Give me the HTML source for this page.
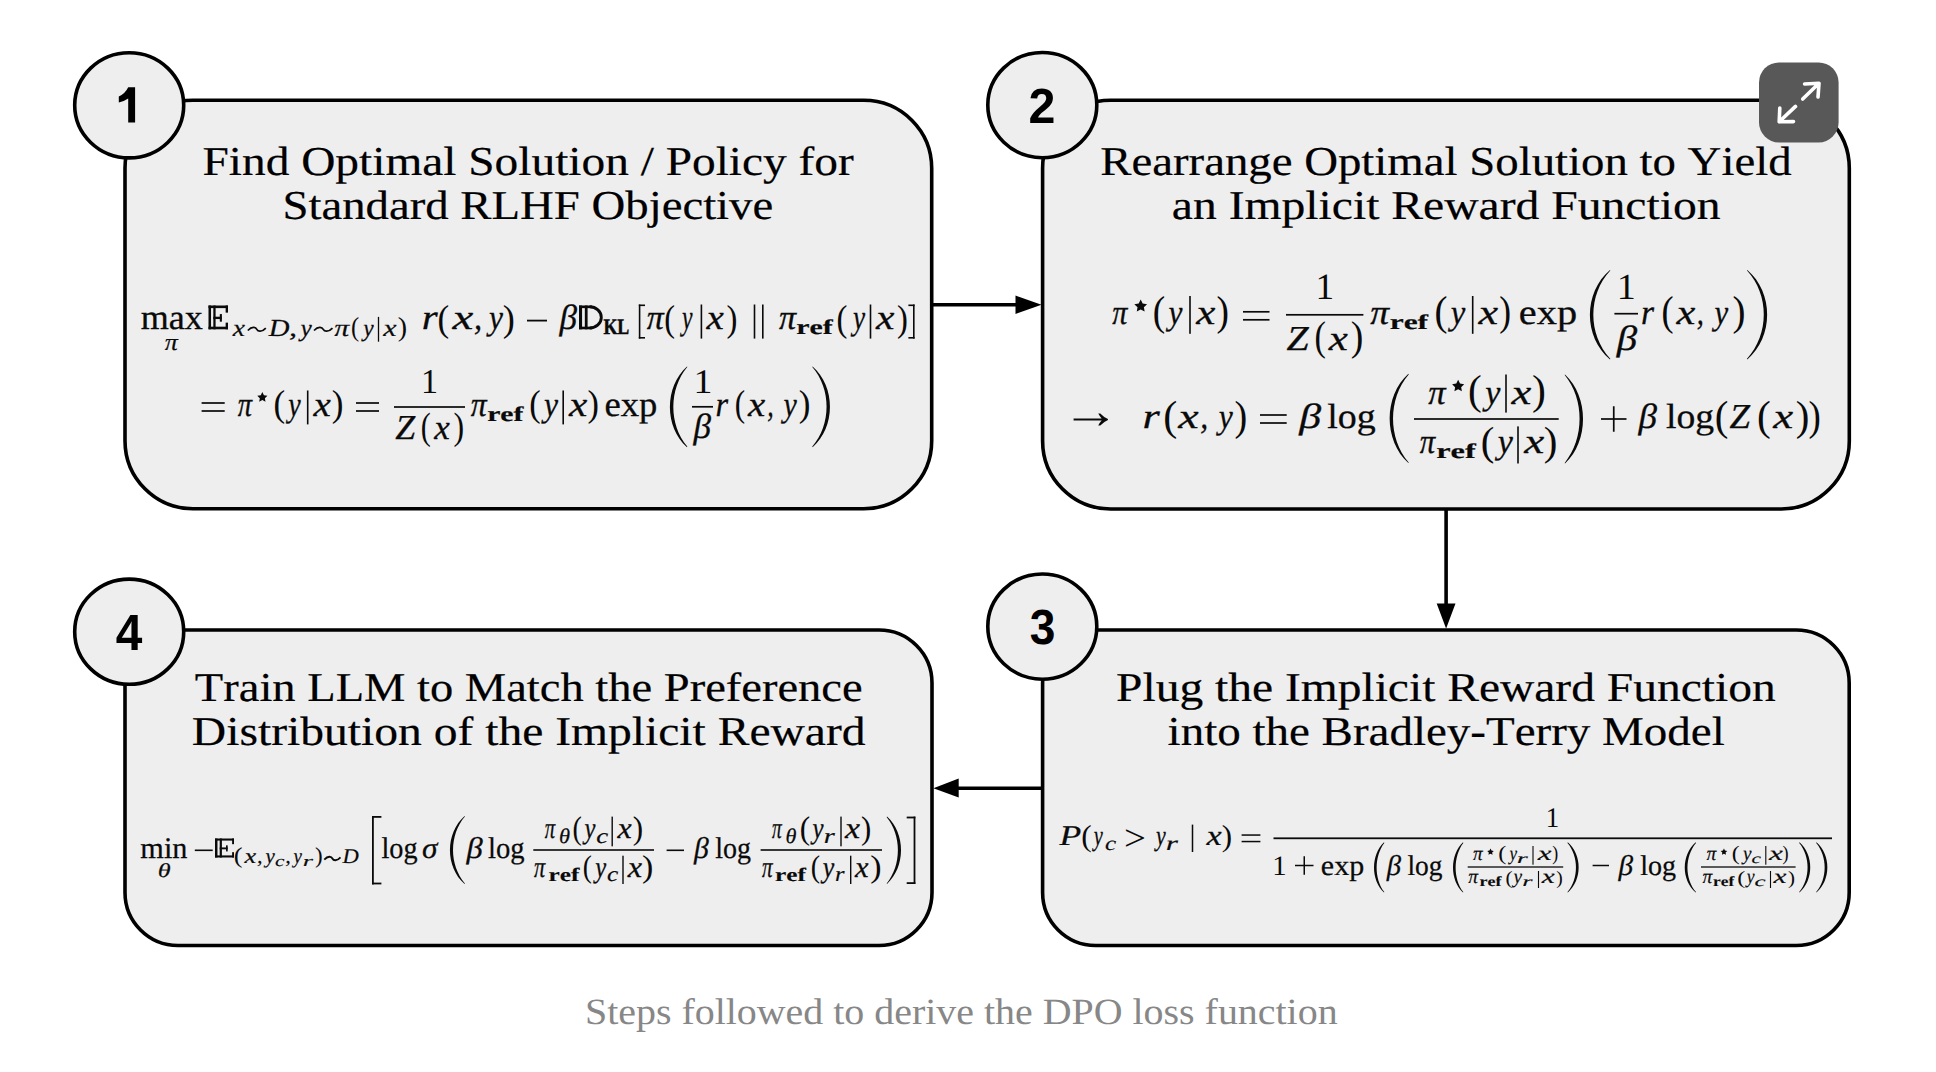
<!DOCTYPE html>
<html><head><meta charset="utf-8"><style>
html,body{margin:0;padding:0;background:#fff;}
svg{display:block;} text{font-kerning:none;font-variant-ligatures:none;text-rendering:geometricPrecision;}
</style></head><body>
<svg width="1936" height="1072" viewBox="0 0 1936 1072">
<rect x="125" y="100.3" width="806.7" height="408.4" rx="68" ry="68" fill="#eeeeee" stroke="#000" stroke-width="3.6"/>
<rect x="1042.6" y="100.2" width="806.7" height="408.8" rx="68" ry="68" fill="#eeeeee" stroke="#000" stroke-width="3.6"/>
<rect x="1042.6" y="630" width="806.6000000000001" height="315.5" rx="53" ry="53" fill="#eeeeee" stroke="#000" stroke-width="3.6"/>
<rect x="125" y="630" width="807" height="315.5" rx="53" ry="53" fill="#eeeeee" stroke="#000" stroke-width="3.6"/>
<line x1="931.7" y1="304.8" x2="1018" y2="304.8" stroke="#000" stroke-width="3.6"/>
<polygon points="1015.5,295.5 1041.5,304.8 1015.5,314" fill="#000"/>
<line x1="1446.1" y1="509" x2="1446.1" y2="606" stroke="#000" stroke-width="3.6"/>
<polygon points="1436.7,603.5 1455.5,603.5 1446.1,628.5" fill="#000"/>
<line x1="1042.6" y1="788.2" x2="956" y2="788.2" stroke="#000" stroke-width="3.6"/>
<polygon points="958.7,778.6 958.7,797.6 933.4,788.2" fill="#000"/>
<ellipse cx="129.2" cy="105.3" rx="54.5" ry="52.6" fill="#eeeeee" stroke="#000" stroke-width="3.6"/>
<ellipse cx="1042.3" cy="105.1" rx="54.5" ry="52.6" fill="#eeeeee" stroke="#000" stroke-width="3.6"/>
<ellipse cx="1042.3" cy="626.6" rx="54.5" ry="52.6" fill="#eeeeee" stroke="#000" stroke-width="3.6"/>
<ellipse cx="129.2" cy="631.7" rx="54.5" ry="52.6" fill="#eeeeee" stroke="#000" stroke-width="3.6"/>
<path d="M128.2,87.3 L135.1,87.3 L135.1,122.5 L128.2,122.5 L128.2,98.6 Q123.5,101.8 118.8,102.6 L118.8,96.4 Q125,94 128.2,87.3 Z" fill="#000"/>
<text transform="translate(1028.62,122.50) scale(0.9797,1.0)" font-family="Liberation Sans" font-style="normal" font-weight="bold" font-size="49.40" fill="#000">2</text>
<text transform="translate(1029.64,643.66) scale(0.9326,1.0)" font-family="Liberation Sans" font-style="normal" font-weight="bold" font-size="49.40" fill="#000">3</text>
<text transform="translate(115.68,649.50) scale(0.9390,1.0)" font-family="Liberation Sans" font-style="normal" font-weight="bold" font-size="50.90" fill="#000">4</text>
<rect x="1759" y="62.4" width="79.6" height="80" rx="20" fill="#585858"/>
<g stroke="#fff" stroke-width="3.6" stroke-linecap="round" stroke-linejoin="round" fill="none"><path d="M1804.6,84 L1819,83.3 L1818,97 M1819,83.3 L1802.7,99"/><path d="M1779.8,108 L1779.2,121.8 L1793.5,121.6 M1779.2,121.8 L1795.5,106.4"/></g>
<text transform="translate(202.44,174.70) scale(1.1554,1.0)" font-family="Liberation Serif" font-style="normal" font-weight="normal" font-size="41.00" fill="#000" stroke="#000" stroke-width="0.2">Find Optimal Solution / Policy for</text>
<text transform="translate(282.47,219.00) scale(1.1402,1.0)" font-family="Liberation Serif" font-style="normal" font-weight="normal" font-size="41.00" fill="#000" stroke="#000" stroke-width="0.2">Standard RLHF Objective</text>
<text transform="translate(1100.25,174.70) scale(1.1412,1.0)" font-family="Liberation Serif" font-style="normal" font-weight="normal" font-size="41.00" fill="#000" stroke="#000" stroke-width="0.2">Rearrange Optimal Solution to Yield</text>
<text transform="translate(1171.83,219.00) scale(1.1612,1.0)" font-family="Liberation Serif" font-style="normal" font-weight="normal" font-size="41.00" fill="#000" stroke="#000" stroke-width="0.2">an Implicit Reward Function</text>
<text transform="translate(1116.03,700.50) scale(1.1586,1.0)" font-family="Liberation Serif" font-style="normal" font-weight="normal" font-size="41.00" fill="#000" stroke="#000" stroke-width="0.2">Plug the Implicit Reward Function</text>
<text transform="translate(1167.61,744.80) scale(1.1460,1.0)" font-family="Liberation Serif" font-style="normal" font-weight="normal" font-size="41.00" fill="#000" stroke="#000" stroke-width="0.2">into the Bradley-Terry Model</text>
<text transform="translate(194.86,700.50) scale(1.1346,1.0)" font-family="Liberation Serif" font-style="normal" font-weight="normal" font-size="41.00" fill="#000" stroke="#000" stroke-width="0.2">Train LLM to Match the Preference</text>
<text transform="translate(191.83,744.80) scale(1.1602,1.0)" font-family="Liberation Serif" font-style="normal" font-weight="normal" font-size="41.00" fill="#000" stroke="#000" stroke-width="0.2">Distribution of the Implicit Reward</text>
<text transform="translate(584.93,1023.80) scale(1.0787,1.0)" font-family="Liberation Serif" font-style="normal" font-weight="normal" font-size="37.00" fill="#878787">Steps followed to derive the DPO loss function</text>
<text transform="translate(140.64,329.40) scale(1.0305,1.0)" font-family="Liberation Serif" font-style="normal" font-weight="normal" font-size="35.00" fill="#0a0a0a" stroke="#0a0a0a" stroke-width="0.3">max</text>
<text transform="translate(164.86,350.00) scale(1.0847,1.0)" font-family="Liberation Serif" font-style="italic" font-weight="normal" font-size="24.00" fill="#0a0a0a" stroke="#0a0a0a" stroke-width="0.2057142857142857">π</text>
<rect x="208.50" y="305.50" width="19.50" height="2.62" fill="#0a0a0a"/>
<rect x="208.50" y="326.68" width="19.50" height="2.62" fill="#0a0a0a"/>
<rect x="208.50" y="305.50" width="2.54" height="23.80" fill="#0a0a0a"/>
<rect x="213.32" y="305.50" width="2.28" height="23.80" fill="#0a0a0a"/>
<rect x="213.32" y="316.69" width="8.19" height="2.36" fill="#0a0a0a"/>
<rect x="225.64" y="305.50" width="2.36" height="7.14" fill="#0a0a0a"/>
<rect x="225.64" y="322.64" width="2.36" height="6.66" fill="#0a0a0a"/>
<rect x="219.81" y="314.07" width="2.09" height="7.62" fill="#0a0a0a"/>
<text transform="translate(232.64,336.00) scale(1.1279,1.0)" font-family="Liberation Serif" font-style="italic" font-weight="normal" font-size="24.50" fill="#0a0a0a" stroke="#0a0a0a" stroke-width="0.21">x</text>
<path d="M247.80,330.50 C252.30,325.70 255.90,327.50 256.80,329.30 S261.30,332.90 265.80,328.10" fill="none" stroke="#0a0a0a" stroke-width="1.7"/>
<text transform="translate(268.72,336.00) scale(1.1706,1.0)" font-family="Liberation Serif" font-style="italic" font-weight="normal" font-size="24.50" fill="#0a0a0a" stroke="#0a0a0a" stroke-width="0.21">D</text>
<text transform="translate(288.92,336.00) scale(1.3269,1.0)" font-family="Liberation Serif" font-style="italic" font-weight="normal" font-size="24.50" fill="#0a0a0a" stroke="#0a0a0a" stroke-width="0.21">,</text>
<text transform="translate(300.52,336.00) scale(1.0362,1.0)" font-family="Liberation Serif" font-style="italic" font-weight="normal" font-size="24.50" fill="#0a0a0a" stroke="#0a0a0a" stroke-width="0.21">y</text>
<path d="M314.00,330.50 C318.62,325.70 322.32,327.50 323.25,329.30 S327.88,332.90 332.50,328.10" fill="none" stroke="#0a0a0a" stroke-width="1.7"/>
<text transform="translate(334.34,336.00) scale(1.2200,1.0)" font-family="Liberation Serif" font-style="italic" font-weight="normal" font-size="24.50" fill="#0a0a0a" stroke="#0a0a0a" stroke-width="0.21">π</text>
<text transform="translate(350.92,335.88) scale(0.2453,0.2735)" font-family="Liberation Serif" font-style="normal" font-weight="normal" font-size="100.0" fill="#0a0a0a">(</text>
<text transform="translate(363.36,336.00) scale(0.9589,1.0)" font-family="Liberation Serif" font-style="italic" font-weight="normal" font-size="24.50" fill="#0a0a0a" stroke="#0a0a0a" stroke-width="0.21">y</text>
<rect x="377.85" y="316.90" width="1.30" height="24.80" fill="#0a0a0a"/>
<text transform="translate(383.37,336.00) scale(1.2280,1.0)" font-family="Liberation Serif" font-style="italic" font-weight="normal" font-size="24.50" fill="#0a0a0a" stroke="#0a0a0a" stroke-width="0.21">x</text>
<text transform="translate(397.70,335.88) scale(0.2803,0.2735)" font-family="Liberation Serif" font-style="normal" font-weight="normal" font-size="100.0" fill="#0a0a0a">)</text>
<text transform="translate(421.74,329.40) scale(1.1703,1.0)" font-family="Liberation Serif" font-style="italic" font-weight="normal" font-size="35.00" fill="#0a0a0a" stroke="#0a0a0a" stroke-width="0.3">r</text>
<text transform="translate(437.46,330.59) scale(0.3504,0.3761)" font-family="Liberation Serif" font-style="normal" font-weight="normal" font-size="100.0" fill="#0a0a0a">(</text>
<text transform="translate(452.57,329.40) scale(1.3371,1.0)" font-family="Liberation Serif" font-style="italic" font-weight="normal" font-size="35.00" fill="#0a0a0a" stroke="#0a0a0a" stroke-width="0.3">x</text>
<text transform="translate(473.92,329.40) scale(0.9288,1.0)" font-family="Liberation Serif" font-style="italic" font-weight="normal" font-size="35.00" fill="#0a0a0a" stroke="#0a0a0a" stroke-width="0.3">,</text>
<text transform="translate(489.03,329.40) scale(0.8986,1.0)" font-family="Liberation Serif" font-style="italic" font-weight="normal" font-size="35.00" fill="#0a0a0a" stroke="#0a0a0a" stroke-width="0.3">y</text>
<text transform="translate(502.83,330.59) scale(0.3621,0.3761)" font-family="Liberation Serif" font-style="normal" font-weight="normal" font-size="100.0" fill="#0a0a0a">)</text>
<rect x="527.00" y="319.70" width="20.00" height="1.80" fill="#0a0a0a"/>
<text transform="translate(559.57,329.40) scale(1.0031,1.0)" font-family="Liberation Serif" font-style="italic" font-weight="normal" font-size="35.00" fill="#0a0a0a" stroke="#0a0a0a" stroke-width="0.3">β</text>
<rect x="579.00" y="305.50" width="3.07" height="23.80" fill="#0a0a0a"/>
<rect x="584.83" y="305.50" width="2.76" height="23.80" fill="#0a0a0a"/>
<rect x="579.00" y="305.50" width="12.98" height="2.62" fill="#0a0a0a"/>
<rect x="579.00" y="326.68" width="12.98" height="2.62" fill="#0a0a0a"/>
<path d="M589.62,306.81 A11.67,10.59 0 0 1 589.62,327.99" fill="none" stroke="#0a0a0a" stroke-width="2.88"/>
<text transform="translate(603.39,334.40) scale(0.8135,1.0)" font-family="Liberation Serif" font-style="normal" font-weight="bold" font-size="22.00" fill="#0a0a0a" stroke="#0a0a0a" stroke-width="0.5">KL</text>
<rect x="638.80" y="304.50" width="1.60" height="34.10" fill="#0a0a0a"/>
<rect x="638.80" y="304.50" width="6.20" height="1.60" fill="#0a0a0a"/>
<rect x="638.80" y="337.00" width="6.20" height="1.60" fill="#0a0a0a"/>
<text transform="translate(646.82,329.40) scale(0.9697,1.0)" font-family="Liberation Serif" font-style="italic" font-weight="normal" font-size="35.00" fill="#0a0a0a" stroke="#0a0a0a" stroke-width="0.3">π</text>
<text transform="translate(664.28,330.59) scale(0.3232,0.3761)" font-family="Liberation Serif" font-style="normal" font-weight="normal" font-size="100.0" fill="#0a0a0a">(</text>
<text transform="translate(681.98,329.40) scale(0.6766,1.0)" font-family="Liberation Serif" font-style="italic" font-weight="normal" font-size="35.00" fill="#0a0a0a" stroke="#0a0a0a" stroke-width="0.3">y</text>
<rect x="700.60" y="304.50" width="1.60" height="34.10" fill="#0a0a0a"/>
<text transform="translate(706.48,329.40) scale(1.1143,1.0)" font-family="Liberation Serif" font-style="italic" font-weight="normal" font-size="35.00" fill="#0a0a0a" stroke="#0a0a0a" stroke-width="0.3">x</text>
<text transform="translate(726.55,330.59) scale(0.3271,0.3761)" font-family="Liberation Serif" font-style="normal" font-weight="normal" font-size="100.0" fill="#0a0a0a">)</text>
<rect x="753.70" y="304.50" width="1.60" height="34.10" fill="#0a0a0a"/>
<rect x="762.00" y="304.50" width="1.60" height="34.10" fill="#0a0a0a"/>
<text transform="translate(779.12,329.40) scale(0.9752,1.0)" font-family="Liberation Serif" font-style="italic" font-weight="normal" font-size="35.00" fill="#0a0a0a" stroke="#0a0a0a" stroke-width="0.3">π</text>
<text transform="translate(796.20,334.40) scale(1.4243,1.0)" font-family="Liberation Serif" font-style="normal" font-weight="bold" font-size="21.00" fill="#0a0a0a" stroke="#0a0a0a" stroke-width="0.18">ref</text>
<text transform="translate(836.56,330.59) scale(0.3271,0.3761)" font-family="Liberation Serif" font-style="normal" font-weight="normal" font-size="100.0" fill="#0a0a0a">(</text>
<text transform="translate(852.88,329.40) scale(0.7795,1.0)" font-family="Liberation Serif" font-style="italic" font-weight="normal" font-size="35.00" fill="#0a0a0a" stroke="#0a0a0a" stroke-width="0.3">y</text>
<rect x="869.70" y="304.50" width="1.60" height="34.10" fill="#0a0a0a"/>
<text transform="translate(875.91,329.40) scale(1.1843,1.0)" font-family="Liberation Serif" font-style="italic" font-weight="normal" font-size="35.00" fill="#0a0a0a" stroke="#0a0a0a" stroke-width="0.3">x</text>
<text transform="translate(896.95,330.59) scale(0.3271,0.3761)" font-family="Liberation Serif" font-style="normal" font-weight="normal" font-size="100.0" fill="#0a0a0a">)</text>
<rect x="913.00" y="304.50" width="1.60" height="34.10" fill="#0a0a0a"/>
<rect x="908.40" y="304.50" width="6.20" height="1.60" fill="#0a0a0a"/>
<rect x="908.40" y="337.00" width="6.20" height="1.60" fill="#0a0a0a"/>
<rect x="201.60" y="402.15" width="23.10" height="1.70" fill="#0a0a0a"/>
<rect x="201.60" y="410.15" width="23.10" height="1.70" fill="#0a0a0a"/>
<text transform="translate(237.85,416.00) scale(0.8155,1.0)" font-family="Liberation Serif" font-style="italic" font-weight="normal" font-size="35.00" fill="#0a0a0a" stroke="#0a0a0a" stroke-width="0.3">π</text>
<polygon points="262.35,392.00 263.92,395.19 267.44,395.70 264.89,398.18 265.49,401.68 262.35,400.03 259.21,401.68 259.81,398.18 257.26,395.70 260.78,395.19" fill="#0a0a0a"/>
<text transform="translate(273.46,416.44) scale(0.3504,0.3739)" font-family="Liberation Serif" font-style="normal" font-weight="normal" font-size="100.0" fill="#0a0a0a">(</text>
<text transform="translate(288.24,416.00) scale(0.8011,1.0)" font-family="Liberation Serif" font-style="italic" font-weight="normal" font-size="35.00" fill="#0a0a0a" stroke="#0a0a0a" stroke-width="0.3">y</text>
<rect x="306.90" y="390.50" width="1.60" height="33.90" fill="#0a0a0a"/>
<text transform="translate(313.48,416.00) scale(1.1143,1.0)" font-family="Liberation Serif" font-style="italic" font-weight="normal" font-size="35.00" fill="#0a0a0a" stroke="#0a0a0a" stroke-width="0.3">x</text>
<text transform="translate(331.87,416.44) scale(0.3504,0.3739)" font-family="Liberation Serif" font-style="normal" font-weight="normal" font-size="100.0" fill="#0a0a0a">)</text>
<rect x="356.00" y="402.15" width="23.00" height="1.70" fill="#0a0a0a"/>
<rect x="356.00" y="410.15" width="23.00" height="1.70" fill="#0a0a0a"/>
<rect x="394.00" y="406.15" width="71.00" height="1.70" fill="#0a0a0a"/>
<text transform="translate(421.00,393.00) scale(0.3409,0.3499)" font-family="Liberation Serif" font-style="normal" font-weight="normal" font-size="100.0" fill="#0a0a0a">1</text>
<text transform="translate(395.36,438.50) scale(1.0244,1.0)" font-family="Liberation Serif" font-style="italic" font-weight="normal" font-size="35.00" fill="#0a0a0a" stroke="#0a0a0a" stroke-width="0.3">Z</text>
<text transform="translate(420.68,439.45) scale(0.2998,0.3827)" font-family="Liberation Serif" font-style="normal" font-weight="normal" font-size="100.0" fill="#0a0a0a">(</text>
<text transform="translate(434.23,438.50) scale(0.9996,1.0)" font-family="Liberation Serif" font-style="italic" font-weight="normal" font-size="35.00" fill="#0a0a0a" stroke="#0a0a0a" stroke-width="0.3">x</text>
<text transform="translate(453.47,439.45) scale(0.3193,0.3827)" font-family="Liberation Serif" font-style="normal" font-weight="normal" font-size="100.0" fill="#0a0a0a">)</text>
<text transform="translate(470.83,416.00) scale(0.9091,1.0)" font-family="Liberation Serif" font-style="italic" font-weight="normal" font-size="35.00" fill="#0a0a0a" stroke="#0a0a0a" stroke-width="0.3">π</text>
<text transform="translate(487.20,421.00) scale(1.4124,1.0)" font-family="Liberation Serif" font-style="normal" font-weight="bold" font-size="21.00" fill="#0a0a0a" stroke="#0a0a0a" stroke-width="0.18">ref</text>
<text transform="translate(529.19,416.44) scale(0.3426,0.3739)" font-family="Liberation Serif" font-style="normal" font-weight="normal" font-size="100.0" fill="#0a0a0a">(</text>
<text transform="translate(543.94,416.00) scale(0.9040,1.0)" font-family="Liberation Serif" font-style="italic" font-weight="normal" font-size="35.00" fill="#0a0a0a" stroke="#0a0a0a" stroke-width="0.3">y</text>
<rect x="562.40" y="390.50" width="1.60" height="33.90" fill="#0a0a0a"/>
<text transform="translate(569.00,416.00) scale(1.1779,1.0)" font-family="Liberation Serif" font-style="italic" font-weight="normal" font-size="35.00" fill="#0a0a0a" stroke="#0a0a0a" stroke-width="0.3">x</text>
<text transform="translate(587.60,416.44) scale(0.3426,0.3739)" font-family="Liberation Serif" font-style="normal" font-weight="normal" font-size="100.0" fill="#0a0a0a">)</text>
<text transform="translate(604.57,416.00) scale(1.0460,1.0)" font-family="Liberation Serif" font-style="normal" font-weight="normal" font-size="35.00" fill="#0a0a0a" stroke="#0a0a0a" stroke-width="0.3">exp</text>
<path d="M687.00,366.40 C664.33,386.60 664.33,427.00 687.00,447.20 L687.30,446.60 C668.73,424.58 668.73,389.02 687.30,367.00 Z" fill="#0a0a0a"/>
<text transform="translate(693.38,392.80) scale(0.3778,0.3454)" font-family="Liberation Serif" font-style="normal" font-weight="normal" font-size="100.0" fill="#0a0a0a">1</text>
<rect x="692.00" y="405.95" width="21.00" height="1.70" fill="#0a0a0a"/>
<text transform="translate(693.57,438.00) scale(1.0031,1.0)" font-family="Liberation Serif" font-style="italic" font-weight="normal" font-size="35.00" fill="#0a0a0a" stroke="#0a0a0a" stroke-width="0.3">β</text>
<text transform="translate(715.59,416.00) scale(0.9265,1.0)" font-family="Liberation Serif" font-style="italic" font-weight="normal" font-size="35.00" fill="#0a0a0a" stroke="#0a0a0a" stroke-width="0.3">r</text>
<text transform="translate(734.63,416.44) scale(0.3115,0.3739)" font-family="Liberation Serif" font-style="normal" font-weight="normal" font-size="100.0" fill="#0a0a0a">(</text>
<text transform="translate(748.07,416.00) scale(1.1079,1.0)" font-family="Liberation Serif" font-style="italic" font-weight="normal" font-size="35.00" fill="#0a0a0a" stroke="#0a0a0a" stroke-width="0.3">x</text>
<text transform="translate(767.14,416.00) scale(0.7430,1.0)" font-family="Liberation Serif" font-style="italic" font-weight="normal" font-size="35.00" fill="#0a0a0a" stroke="#0a0a0a" stroke-width="0.3">,</text>
<text transform="translate(783.50,416.00) scale(0.8553,1.0)" font-family="Liberation Serif" font-style="italic" font-weight="normal" font-size="35.00" fill="#0a0a0a" stroke="#0a0a0a" stroke-width="0.3">y</text>
<text transform="translate(798.87,416.44) scale(0.3504,0.3739)" font-family="Liberation Serif" font-style="normal" font-weight="normal" font-size="100.0" fill="#0a0a0a">)</text>
<path d="M812.60,366.40 C835.80,386.60 835.80,427.00 812.60,447.20 L812.30,446.60 C831.40,424.58 831.40,389.02 812.30,367.00 Z" fill="#0a0a0a"/>
<text transform="translate(1112.14,324.00) scale(0.8650,1.0)" font-family="Liberation Serif" font-style="italic" font-weight="normal" font-size="35.00" fill="#0a0a0a" stroke="#0a0a0a" stroke-width="0.3">π</text>
<polygon points="1140.70,299.50 1142.67,303.49 1147.07,304.13 1143.89,307.24 1144.64,311.62 1140.70,309.55 1136.76,311.62 1137.51,307.24 1134.33,304.13 1138.73,303.49" fill="#0a0a0a"/>
<text transform="translate(1152.76,324.93) scale(0.3738,0.4169)" font-family="Liberation Serif" font-style="normal" font-weight="normal" font-size="100.0" fill="#0a0a0a">(</text>
<text transform="translate(1168.53,324.00) scale(0.8986,1.0)" font-family="Liberation Serif" font-style="italic" font-weight="normal" font-size="35.00" fill="#0a0a0a" stroke="#0a0a0a" stroke-width="0.3">y</text>
<rect x="1189.20" y="296.00" width="1.60" height="37.80" fill="#0a0a0a"/>
<text transform="translate(1196.23,324.00) scale(1.2289,1.0)" font-family="Liberation Serif" font-style="italic" font-weight="normal" font-size="35.00" fill="#0a0a0a" stroke="#0a0a0a" stroke-width="0.3">x</text>
<text transform="translate(1216.50,324.93) scale(0.3738,0.4169)" font-family="Liberation Serif" font-style="normal" font-weight="normal" font-size="100.0" fill="#0a0a0a">)</text>
<rect x="1243.00" y="310.95" width="26.50" height="1.70" fill="#0a0a0a"/>
<rect x="1243.00" y="318.95" width="26.50" height="1.70" fill="#0a0a0a"/>
<rect x="1286.00" y="313.95" width="77.40" height="1.70" fill="#0a0a0a"/>
<text transform="translate(1315.43,298.60) scale(0.3721,0.3726)" font-family="Liberation Serif" font-style="normal" font-weight="normal" font-size="100.0" fill="#0a0a0a">1</text>
<text transform="translate(1286.51,350.00) scale(1.1382,1.0)" font-family="Liberation Serif" font-style="italic" font-weight="normal" font-size="35.00" fill="#0a0a0a" stroke="#0a0a0a" stroke-width="0.3">Z</text>
<text transform="translate(1314.49,350.35) scale(0.3426,0.4158)" font-family="Liberation Serif" font-style="normal" font-weight="normal" font-size="100.0" fill="#0a0a0a">(</text>
<text transform="translate(1328.83,350.00) scale(1.2289,1.0)" font-family="Liberation Serif" font-style="italic" font-weight="normal" font-size="35.00" fill="#0a0a0a" stroke="#0a0a0a" stroke-width="0.3">x</text>
<text transform="translate(1350.78,350.35) scale(0.3777,0.4158)" font-family="Liberation Serif" font-style="normal" font-weight="normal" font-size="100.0" fill="#0a0a0a">)</text>
<text transform="translate(1370.30,324.00) scale(1.0744,1.0)" font-family="Liberation Serif" font-style="italic" font-weight="normal" font-size="35.00" fill="#0a0a0a" stroke="#0a0a0a" stroke-width="0.3">π</text>
<text transform="translate(1389.65,329.00) scale(1.4995,1.0)" font-family="Liberation Serif" font-style="normal" font-weight="bold" font-size="21.00" fill="#0a0a0a" stroke="#0a0a0a" stroke-width="0.18">ref</text>
<text transform="translate(1434.59,324.93) scale(0.3894,0.4169)" font-family="Liberation Serif" font-style="normal" font-weight="normal" font-size="100.0" fill="#0a0a0a">(</text>
<text transform="translate(1450.74,324.00) scale(0.9364,1.0)" font-family="Liberation Serif" font-style="italic" font-weight="normal" font-size="35.00" fill="#0a0a0a" stroke="#0a0a0a" stroke-width="0.3">y</text>
<rect x="1471.90" y="296.00" width="1.60" height="37.80" fill="#0a0a0a"/>
<text transform="translate(1478.54,324.00) scale(1.2607,1.0)" font-family="Liberation Serif" font-style="italic" font-weight="normal" font-size="35.00" fill="#0a0a0a" stroke="#0a0a0a" stroke-width="0.3">x</text>
<text transform="translate(1499.36,324.93) scale(0.3543,0.4169)" font-family="Liberation Serif" font-style="normal" font-weight="normal" font-size="100.0" fill="#0a0a0a">)</text>
<text transform="translate(1518.82,324.00) scale(1.1527,1.0)" font-family="Liberation Serif" font-style="normal" font-weight="normal" font-size="35.00" fill="#0a0a0a" stroke="#0a0a0a" stroke-width="0.3">exp</text>
<path d="M1610.00,270.00 C1583.33,292.35 1583.33,337.05 1610.00,359.40 L1610.30,358.80 C1587.73,334.37 1587.73,295.03 1610.30,270.60 Z" fill="#0a0a0a"/>
<text transform="translate(1616.65,298.90) scale(0.3806,0.3696)" font-family="Liberation Serif" font-style="normal" font-weight="normal" font-size="100.0" fill="#0a0a0a">1</text>
<rect x="1614.40" y="312.85" width="23.60" height="1.70" fill="#0a0a0a"/>
<text transform="translate(1616.66,349.50) scale(1.1703,1.0)" font-family="Liberation Serif" font-style="italic" font-weight="normal" font-size="35.00" fill="#0a0a0a" stroke="#0a0a0a" stroke-width="0.3">β</text>
<text transform="translate(1641.04,324.00) scale(0.9590,1.0)" font-family="Liberation Serif" font-style="italic" font-weight="normal" font-size="35.00" fill="#0a0a0a" stroke="#0a0a0a" stroke-width="0.3">r</text>
<text transform="translate(1661.41,324.93) scale(0.3621,0.4169)" font-family="Liberation Serif" font-style="normal" font-weight="normal" font-size="100.0" fill="#0a0a0a">(</text>
<text transform="translate(1676.52,324.00) scale(1.2098,1.0)" font-family="Liberation Serif" font-style="italic" font-weight="normal" font-size="35.00" fill="#0a0a0a" stroke="#0a0a0a" stroke-width="0.3">x</text>
<text transform="translate(1696.65,324.00) scale(0.8173,1.0)" font-family="Liberation Serif" font-style="italic" font-weight="normal" font-size="35.00" fill="#0a0a0a" stroke="#0a0a0a" stroke-width="0.3">,</text>
<text transform="translate(1714.58,324.00) scale(0.8823,1.0)" font-family="Liberation Serif" font-style="italic" font-weight="normal" font-size="35.00" fill="#0a0a0a" stroke="#0a0a0a" stroke-width="0.3">y</text>
<text transform="translate(1732.45,324.93) scale(0.3894,0.4169)" font-family="Liberation Serif" font-style="normal" font-weight="normal" font-size="100.0" fill="#0a0a0a">)</text>
<path d="M1747.30,270.00 C1773.83,292.35 1773.83,337.05 1747.30,359.40 L1747.00,358.80 C1769.43,334.37 1769.43,295.03 1747.00,270.60 Z" fill="#0a0a0a"/>
<text transform="translate(1061.87,427.50) scale(0.5796,0.5120)" font-family="Liberation Serif" font-style="normal" font-weight="normal" font-size="100.0" fill="#0a0a0a">→</text>
<text transform="translate(1142.60,427.70) scale(1.2678,1.0)" font-family="Liberation Serif" font-style="italic" font-weight="normal" font-size="35.00" fill="#0a0a0a" stroke="#0a0a0a" stroke-width="0.3">r</text>
<text transform="translate(1163.15,429.61) scale(0.4205,0.4224)" font-family="Liberation Serif" font-style="normal" font-weight="normal" font-size="100.0" fill="#0a0a0a">(</text>
<text transform="translate(1178.36,427.70) scale(1.3116,1.0)" font-family="Liberation Serif" font-style="italic" font-weight="normal" font-size="35.00" fill="#0a0a0a" stroke="#0a0a0a" stroke-width="0.3">x</text>
<text transform="translate(1200.24,427.70) scale(0.9102,1.0)" font-family="Liberation Serif" font-style="italic" font-weight="normal" font-size="35.00" fill="#0a0a0a" stroke="#0a0a0a" stroke-width="0.3">,</text>
<text transform="translate(1218.64,427.70) scale(0.9040,1.0)" font-family="Liberation Serif" font-style="italic" font-weight="normal" font-size="35.00" fill="#0a0a0a" stroke="#0a0a0a" stroke-width="0.3">y</text>
<text transform="translate(1234.47,429.61) scale(0.3816,0.4224)" font-family="Liberation Serif" font-style="normal" font-weight="normal" font-size="100.0" fill="#0a0a0a">)</text>
<rect x="1260.00" y="414.15" width="26.70" height="1.70" fill="#0a0a0a"/>
<rect x="1260.00" y="422.15" width="26.70" height="1.70" fill="#0a0a0a"/>
<text transform="translate(1299.21,427.70) scale(1.2539,1.0)" font-family="Liberation Serif" font-style="italic" font-weight="normal" font-size="35.00" fill="#0a0a0a" stroke="#0a0a0a" stroke-width="0.3">β</text>
<text transform="translate(1327.24,427.70) scale(1.0840,1.0)" font-family="Liberation Serif" font-style="normal" font-weight="normal" font-size="35.00" fill="#0a0a0a" stroke="#0a0a0a" stroke-width="0.3">log</text>
<path d="M1408.40,373.80 C1383.47,396.10 1383.47,440.70 1408.40,463.00 L1408.70,462.40 C1387.87,438.02 1387.87,398.78 1408.70,374.40 Z" fill="#0a0a0a"/>
<text transform="translate(1428.31,404.00) scale(0.9918,1.0)" font-family="Liberation Serif" font-style="italic" font-weight="normal" font-size="35.00" fill="#0a0a0a" stroke="#0a0a0a" stroke-width="0.3">π</text>
<polygon points="1458.15,379.80 1460.02,383.58 1464.19,384.19 1461.17,387.13 1461.88,391.29 1458.15,389.33 1454.42,391.29 1455.13,387.13 1452.11,384.19 1456.28,383.58" fill="#0a0a0a"/>
<text transform="translate(1467.99,403.65) scale(0.4127,0.4202)" font-family="Liberation Serif" font-style="normal" font-weight="normal" font-size="100.0" fill="#0a0a0a">(</text>
<text transform="translate(1485.35,404.00) scale(0.9743,1.0)" font-family="Liberation Serif" font-style="italic" font-weight="normal" font-size="35.00" fill="#0a0a0a" stroke="#0a0a0a" stroke-width="0.3">y</text>
<rect x="1505.20" y="374.50" width="1.60" height="38.10" fill="#0a0a0a"/>
<text transform="translate(1511.54,404.00) scale(1.2734,1.0)" font-family="Liberation Serif" font-style="italic" font-weight="normal" font-size="35.00" fill="#0a0a0a" stroke="#0a0a0a" stroke-width="0.3">x</text>
<text transform="translate(1531.96,403.65) scale(0.4166,0.4202)" font-family="Liberation Serif" font-style="normal" font-weight="normal" font-size="100.0" fill="#0a0a0a">)</text>
<rect x="1414.00" y="418.15" width="144.70" height="1.70" fill="#0a0a0a"/>
<text transform="translate(1419.83,453.00) scale(0.8816,1.0)" font-family="Liberation Serif" font-style="italic" font-weight="normal" font-size="35.00" fill="#0a0a0a" stroke="#0a0a0a" stroke-width="0.3">π</text>
<text transform="translate(1436.13,458.00) scale(1.5430,1.0)" font-family="Liberation Serif" font-style="normal" font-weight="bold" font-size="21.00" fill="#0a0a0a" stroke="#0a0a0a" stroke-width="0.18">ref</text>
<text transform="translate(1480.70,454.79) scale(0.4088,0.4092)" font-family="Liberation Serif" font-style="normal" font-weight="normal" font-size="100.0" fill="#0a0a0a">(</text>
<text transform="translate(1497.85,453.00) scale(0.9743,1.0)" font-family="Liberation Serif" font-style="italic" font-weight="normal" font-size="35.00" fill="#0a0a0a" stroke="#0a0a0a" stroke-width="0.3">y</text>
<rect x="1517.20" y="426.40" width="1.60" height="37.10" fill="#0a0a0a"/>
<text transform="translate(1524.35,453.00) scale(1.2862,1.0)" font-family="Liberation Serif" font-style="italic" font-weight="normal" font-size="35.00" fill="#0a0a0a" stroke="#0a0a0a" stroke-width="0.3">x</text>
<text transform="translate(1543.68,454.79) scale(0.4088,0.4092)" font-family="Liberation Serif" font-style="normal" font-weight="normal" font-size="100.0" fill="#0a0a0a">)</text>
<path d="M1565.00,374.50 C1589.00,396.75 1589.00,441.25 1565.00,463.50 L1564.70,462.90 C1584.60,438.58 1584.60,399.42 1564.70,375.10 Z" fill="#0a0a0a"/>
<rect x="1601.00" y="418.15" width="25.50" height="1.70" fill="#0a0a0a"/>
<rect x="1612.90" y="406.25" width="1.70" height="25.50" fill="#0a0a0a"/>
<text transform="translate(1638.60,427.70) scale(1.0588,1.0)" font-family="Liberation Serif" font-style="italic" font-weight="normal" font-size="35.00" fill="#0a0a0a" stroke="#0a0a0a" stroke-width="0.3">β</text>
<text transform="translate(1665.95,427.70) scale(1.0748,1.0)" font-family="Liberation Serif" font-style="normal" font-weight="normal" font-size="35.00" fill="#0a0a0a" stroke="#0a0a0a" stroke-width="0.3">log</text>
<text transform="translate(1714.70,429.61) scale(0.4088,0.4224)" font-family="Liberation Serif" font-style="normal" font-weight="normal" font-size="100.0" fill="#0a0a0a">(</text>
<text transform="translate(1729.55,427.70) scale(1.0554,1.0)" font-family="Liberation Serif" font-style="italic" font-weight="normal" font-size="35.00" fill="#0a0a0a" stroke="#0a0a0a" stroke-width="0.3">Z</text>
<text transform="translate(1756.99,429.61) scale(0.4127,0.4224)" font-family="Liberation Serif" font-style="normal" font-weight="normal" font-size="100.0" fill="#0a0a0a">(</text>
<text transform="translate(1773.15,427.70) scale(1.2798,1.0)" font-family="Liberation Serif" font-style="italic" font-weight="normal" font-size="35.00" fill="#0a0a0a" stroke="#0a0a0a" stroke-width="0.3">x</text>
<text transform="translate(1795.68,429.61) scale(0.4088,0.4224)" font-family="Liberation Serif" font-style="normal" font-weight="normal" font-size="100.0" fill="#0a0a0a">)</text>
<text transform="translate(1808.51,429.61) scale(0.3699,0.4224)" font-family="Liberation Serif" font-style="normal" font-weight="normal" font-size="100.0" fill="#0a0a0a">)</text>
<text transform="translate(1059.59,845.30) scale(1.2472,1.0)" font-family="Liberation Serif" font-style="italic" font-weight="normal" font-size="28.50" fill="#0a0a0a" stroke="#0a0a0a" stroke-width="0.24428571428571427">P</text>
<text transform="translate(1081.13,845.57) scale(0.3115,0.3022)" font-family="Liberation Serif" font-style="normal" font-weight="normal" font-size="100.0" fill="#0a0a0a">(</text>
<text transform="translate(1093.71,845.30) scale(0.7179,1.0)" font-family="Liberation Serif" font-style="italic" font-weight="normal" font-size="28.50" fill="#0a0a0a" stroke="#0a0a0a" stroke-width="0.24428571428571427">y</text>
<text transform="translate(1104.93,849.50) scale(1.2551,1.0)" font-family="Liberation Serif" font-style="italic" font-weight="normal" font-size="20.00" fill="#0a0a0a" stroke="#0a0a0a" stroke-width="0.1714285714285714">c</text>
<text transform="translate(1124.04,849.79) scale(0.3868,0.3628)" font-family="Liberation Serif" font-style="normal" font-weight="normal" font-size="100.0" fill="#0a0a0a">&gt;</text>
<text transform="translate(1155.93,845.30) scale(0.7711,1.0)" font-family="Liberation Serif" font-style="italic" font-weight="normal" font-size="28.50" fill="#0a0a0a" stroke="#0a0a0a" stroke-width="0.24428571428571427">y</text>
<text transform="translate(1165.73,849.50) scale(1.5644,1.0)" font-family="Liberation Serif" font-style="italic" font-weight="normal" font-size="20.00" fill="#0a0a0a" stroke="#0a0a0a" stroke-width="0.1714285714285714">r</text>
<rect x="1191.75" y="824.60" width="1.50" height="27.40" fill="#0a0a0a"/>
<text transform="translate(1206.42,845.30) scale(1.2042,1.0)" font-family="Liberation Serif" font-style="italic" font-weight="normal" font-size="28.50" fill="#0a0a0a" stroke="#0a0a0a" stroke-width="0.24428571428571427">x</text>
<text transform="translate(1221.80,845.57) scale(0.3115,0.3022)" font-family="Liberation Serif" font-style="normal" font-weight="normal" font-size="100.0" fill="#0a0a0a">)</text>
<rect x="1241.60" y="834.30" width="18.80" height="1.50" fill="#0a0a0a"/>
<rect x="1241.60" y="840.80" width="18.80" height="1.50" fill="#0a0a0a"/>
<rect x="1273.50" y="837.40" width="558.50" height="1.80" fill="#0a0a0a"/>
<text transform="translate(1545.63,826.80) scale(0.2698,0.2848)" font-family="Liberation Serif" font-style="normal" font-weight="normal" font-size="100.0" fill="#0a0a0a">1</text>
<text transform="translate(1272.18,874.80) scale(0.2869,0.2818)" font-family="Liberation Serif" font-style="normal" font-weight="normal" font-size="100.0" fill="#0a0a0a">1</text>
<rect x="1295.00" y="864.75" width="18.50" height="1.50" fill="#0a0a0a"/>
<rect x="1303.50" y="856.25" width="1.50" height="18.50" fill="#0a0a0a"/>
<text transform="translate(1320.83,874.80) scale(1.0534,1.0)" font-family="Liberation Serif" font-style="normal" font-weight="normal" font-size="28.50" fill="#0a0a0a" stroke="#0a0a0a" stroke-width="0.24428571428571427">exp</text>
<path d="M1384.00,842.30 C1370.67,854.88 1370.67,880.02 1384.00,892.60 L1384.30,892.00 C1374.13,878.52 1374.13,856.38 1384.30,842.90 Z" fill="#0a0a0a"/>
<text transform="translate(1386.76,874.80) scale(1.0060,1.0)" font-family="Liberation Serif" font-style="italic" font-weight="normal" font-size="28.50" fill="#0a0a0a" stroke="#0a0a0a" stroke-width="0.24428571428571427">β</text>
<text transform="translate(1407.45,874.80) scale(0.9630,1.0)" font-family="Liberation Serif" font-style="normal" font-weight="normal" font-size="28.50" fill="#0a0a0a" stroke="#0a0a0a" stroke-width="0.24428571428571427">log</text>
<path d="M1463.00,842.30 C1449.67,854.88 1449.67,880.02 1463.00,892.60 L1463.30,892.00 C1453.13,878.52 1453.13,856.38 1463.30,842.90 Z" fill="#0a0a0a"/>
<text transform="translate(1472.90,860.00) scale(0.9642,1.0)" font-family="Liberation Serif" font-style="italic" font-weight="normal" font-size="20.00" fill="#0a0a0a" stroke="#0a0a0a" stroke-width="0.1714285714285714">π</text>
<polygon points="1490.50,848.50 1491.53,850.58 1493.83,850.92 1492.16,852.54 1492.56,854.83 1490.50,853.75 1488.44,854.83 1488.84,852.54 1487.17,850.92 1489.47,850.58" fill="#0a0a0a"/>
<text transform="translate(1498.34,860.31) scale(0.2414,0.2062)" font-family="Liberation Serif" font-style="normal" font-weight="normal" font-size="100.0" fill="#0a0a0a">(</text>
<text transform="translate(1509.42,860.00) scale(0.8525,1.0)" font-family="Liberation Serif" font-style="italic" font-weight="normal" font-size="20.00" fill="#0a0a0a" stroke="#0a0a0a" stroke-width="0.1714285714285714">y</text>
<text transform="translate(1516.85,862.50) scale(2.0317,1.0)" font-family="Liberation Serif" font-style="italic" font-weight="normal" font-size="14.00" fill="#0a0a0a" stroke="#0a0a0a" stroke-width="0.12">r</text>
<rect x="1532.45" y="846.00" width="1.10" height="18.70" fill="#0a0a0a"/>
<text transform="translate(1537.78,860.00) scale(1.5488,1.0)" font-family="Liberation Serif" font-style="italic" font-weight="normal" font-size="20.00" fill="#0a0a0a" stroke="#0a0a0a" stroke-width="0.1714285714285714">x</text>
<text transform="translate(1552.32,860.31) scale(0.1791,0.2062)" font-family="Liberation Serif" font-style="normal" font-weight="normal" font-size="100.0" fill="#0a0a0a">)</text>
<rect x="1467.70" y="866.35" width="95.50" height="1.30" fill="#0a0a0a"/>
<text transform="translate(1468.30,883.30) scale(0.9739,1.0)" font-family="Liberation Serif" font-style="italic" font-weight="normal" font-size="20.00" fill="#0a0a0a" stroke="#0a0a0a" stroke-width="0.1714285714285714">π</text>
<text transform="translate(1479.52,886.00) scale(1.2878,1.0)" font-family="Liberation Serif" font-style="normal" font-weight="bold" font-size="14.00" fill="#0a0a0a" stroke="#0a0a0a" stroke-width="0.12">ref</text>
<text transform="translate(1505.48,884.01) scale(0.2103,0.1875)" font-family="Liberation Serif" font-style="normal" font-weight="normal" font-size="100.0" fill="#0a0a0a">(</text>
<text transform="translate(1513.41,883.30) scale(0.9662,1.0)" font-family="Liberation Serif" font-style="italic" font-weight="normal" font-size="20.00" fill="#0a0a0a" stroke="#0a0a0a" stroke-width="0.1714285714285714">y</text>
<text transform="translate(1522.33,886.00) scale(1.8895,1.0)" font-family="Liberation Serif" font-style="italic" font-weight="normal" font-size="14.00" fill="#0a0a0a" stroke="#0a0a0a" stroke-width="0.12">r</text>
<rect x="1537.95" y="871.00" width="1.10" height="17.00" fill="#0a0a0a"/>
<text transform="translate(1541.66,883.30) scale(1.4597,1.0)" font-family="Liberation Serif" font-style="italic" font-weight="normal" font-size="20.00" fill="#0a0a0a" stroke="#0a0a0a" stroke-width="0.1714285714285714">x</text>
<text transform="translate(1556.37,884.01) scale(0.1947,0.1875)" font-family="Liberation Serif" font-style="normal" font-weight="normal" font-size="100.0" fill="#0a0a0a">)</text>
<path d="M1567.80,842.30 C1582.33,854.88 1582.33,880.02 1567.80,892.60 L1567.50,892.00 C1578.87,878.52 1578.87,856.38 1567.50,842.90 Z" fill="#0a0a0a"/>
<rect x="1592.60" y="864.75" width="16.40" height="1.50" fill="#0a0a0a"/>
<text transform="translate(1618.47,874.80) scale(1.0266,1.0)" font-family="Liberation Serif" font-style="italic" font-weight="normal" font-size="28.50" fill="#0a0a0a" stroke="#0a0a0a" stroke-width="0.24428571428571427">β</text>
<text transform="translate(1640.14,874.80) scale(0.9857,1.0)" font-family="Liberation Serif" font-style="normal" font-weight="normal" font-size="28.50" fill="#0a0a0a" stroke="#0a0a0a" stroke-width="0.24428571428571427">log</text>
<path d="M1695.70,842.30 C1681.17,854.88 1681.17,880.02 1695.70,892.60 L1696.00,892.00 C1684.63,878.52 1684.63,856.38 1696.00,842.90 Z" fill="#0a0a0a"/>
<text transform="translate(1706.40,860.00) scale(0.9739,1.0)" font-family="Liberation Serif" font-style="italic" font-weight="normal" font-size="20.00" fill="#0a0a0a" stroke="#0a0a0a" stroke-width="0.1714285714285714">π</text>
<polygon points="1723.95,848.50 1724.96,850.55 1727.23,850.88 1725.59,852.48 1725.98,854.74 1723.95,853.68 1721.92,854.74 1722.31,852.48 1720.67,850.88 1722.94,850.55" fill="#0a0a0a"/>
<text transform="translate(1731.86,860.31) scale(0.2375,0.2062)" font-family="Liberation Serif" font-style="normal" font-weight="normal" font-size="100.0" fill="#0a0a0a">(</text>
<text transform="translate(1743.00,860.00) scale(0.9567,1.0)" font-family="Liberation Serif" font-style="italic" font-weight="normal" font-size="20.00" fill="#0a0a0a" stroke="#0a0a0a" stroke-width="0.1714285714285714">y</text>
<text transform="translate(1751.54,862.50) scale(1.5268,1.0)" font-family="Liberation Serif" font-style="italic" font-weight="normal" font-size="14.00" fill="#0a0a0a" stroke="#0a0a0a" stroke-width="0.12">c</text>
<rect x="1765.25" y="846.00" width="1.10" height="18.70" fill="#0a0a0a"/>
<text transform="translate(1768.88,860.00) scale(1.5600,1.0)" font-family="Liberation Serif" font-style="italic" font-weight="normal" font-size="20.00" fill="#0a0a0a" stroke="#0a0a0a" stroke-width="0.1714285714285714">x</text>
<text transform="translate(1782.61,860.31) scale(0.1830,0.2062)" font-family="Liberation Serif" font-style="normal" font-weight="normal" font-size="100.0" fill="#0a0a0a">)</text>
<rect x="1701.00" y="866.35" width="94.60" height="1.30" fill="#0a0a0a"/>
<text transform="translate(1702.50,883.30) scale(0.9739,1.0)" font-family="Liberation Serif" font-style="italic" font-weight="normal" font-size="20.00" fill="#0a0a0a" stroke="#0a0a0a" stroke-width="0.1714285714285714">π</text>
<text transform="translate(1713.03,886.00) scale(1.2403,1.0)" font-family="Liberation Serif" font-style="normal" font-weight="bold" font-size="14.00" fill="#0a0a0a" stroke="#0a0a0a" stroke-width="0.12">ref</text>
<text transform="translate(1737.24,884.01) scale(0.2414,0.1875)" font-family="Liberation Serif" font-style="normal" font-weight="normal" font-size="100.0" fill="#0a0a0a">(</text>
<text transform="translate(1746.77,883.30) scale(0.8810,1.0)" font-family="Liberation Serif" font-style="italic" font-weight="normal" font-size="20.00" fill="#0a0a0a" stroke="#0a0a0a" stroke-width="0.1714285714285714">y</text>
<text transform="translate(1754.53,886.00) scale(1.7931,1.0)" font-family="Liberation Serif" font-style="italic" font-weight="normal" font-size="14.00" fill="#0a0a0a" stroke="#0a0a0a" stroke-width="0.12">c</text>
<rect x="1769.95" y="871.00" width="1.10" height="17.00" fill="#0a0a0a"/>
<text transform="translate(1773.56,883.30) scale(1.4597,1.0)" font-family="Liberation Serif" font-style="italic" font-weight="normal" font-size="20.00" fill="#0a0a0a" stroke="#0a0a0a" stroke-width="0.1714285714285714">x</text>
<text transform="translate(1787.92,884.01) scale(0.2103,0.1875)" font-family="Liberation Serif" font-style="normal" font-weight="normal" font-size="100.0" fill="#0a0a0a">)</text>
<path d="M1799.50,842.30 C1813.90,854.88 1813.90,880.02 1799.50,892.60 L1799.20,892.00 C1810.43,878.52 1810.43,856.38 1799.20,842.90 Z" fill="#0a0a0a"/>
<path d="M1816.50,842.30 C1831.03,854.88 1831.03,880.02 1816.50,892.60 L1816.20,892.00 C1827.57,878.52 1827.57,856.38 1816.20,842.90 Z" fill="#0a0a0a"/>
<text transform="translate(140.36,857.50) scale(1.0091,1.0)" font-family="Liberation Serif" font-style="normal" font-weight="normal" font-size="30.00" fill="#0a0a0a" stroke="#0a0a0a" stroke-width="0.2571428571428571">min</text>
<text transform="translate(157.72,876.70) scale(1.3128,1.0)" font-family="Liberation Serif" font-style="italic" font-weight="normal" font-size="20.00" fill="#0a0a0a" stroke="#0a0a0a" stroke-width="0.1714285714285714">θ</text>
<rect x="194.80" y="849.50" width="17.90" height="1.60" fill="#0a0a0a"/>
<rect x="215.00" y="838.50" width="19.00" height="2.09" fill="#0a0a0a"/>
<rect x="215.00" y="855.41" width="19.00" height="2.09" fill="#0a0a0a"/>
<rect x="215.00" y="838.50" width="2.47" height="19.00" fill="#0a0a0a"/>
<rect x="219.69" y="838.50" width="2.22" height="19.00" fill="#0a0a0a"/>
<rect x="219.69" y="847.43" width="7.98" height="1.88" fill="#0a0a0a"/>
<rect x="232.12" y="838.50" width="1.88" height="5.70" fill="#0a0a0a"/>
<rect x="232.12" y="852.18" width="1.88" height="5.32" fill="#0a0a0a"/>
<rect x="226.02" y="845.34" width="1.67" height="6.08" fill="#0a0a0a"/>
<text transform="translate(233.64,863.39) scale(0.2648,0.2261)" font-family="Liberation Serif" font-style="normal" font-weight="normal" font-size="100.0" fill="#0a0a0a">(</text>
<text transform="translate(244.52,863.00) scale(1.2522,1.0)" font-family="Liberation Serif" font-style="italic" font-weight="normal" font-size="21.00" fill="#0a0a0a" stroke="#0a0a0a" stroke-width="0.18">x</text>
<text transform="translate(257.07,863.00) scale(1.0526,1.0)" font-family="Liberation Serif" font-style="italic" font-weight="normal" font-size="21.00" fill="#0a0a0a" stroke="#0a0a0a" stroke-width="0.18">,</text>
<text transform="translate(265.56,863.00) scale(1.0014,1.0)" font-family="Liberation Serif" font-style="italic" font-weight="normal" font-size="21.00" fill="#0a0a0a" stroke="#0a0a0a" stroke-width="0.18">y</text>
<text transform="translate(275.04,866.00) scale(1.4250,1.0)" font-family="Liberation Serif" font-style="italic" font-weight="normal" font-size="15.00" fill="#0a0a0a" stroke="#0a0a0a" stroke-width="0.12857142857142856">c</text>
<text transform="translate(285.27,863.00) scale(1.0526,1.0)" font-family="Liberation Serif" font-style="italic" font-weight="normal" font-size="21.00" fill="#0a0a0a" stroke="#0a0a0a" stroke-width="0.18">,</text>
<text transform="translate(293.58,863.00) scale(0.9022,1.0)" font-family="Liberation Serif" font-style="italic" font-weight="normal" font-size="21.00" fill="#0a0a0a" stroke="#0a0a0a" stroke-width="0.18">y</text>
<text transform="translate(302.83,866.00) scale(1.7636,1.0)" font-family="Liberation Serif" font-style="italic" font-weight="normal" font-size="15.00" fill="#0a0a0a" stroke="#0a0a0a" stroke-width="0.12857142857142856">r</text>
<text transform="translate(315.06,863.39) scale(0.2297,0.2261)" font-family="Liberation Serif" font-style="normal" font-weight="normal" font-size="100.0" fill="#0a0a0a">)</text>
<path d="M324.30,859.62 C328.35,855.14 331.59,856.82 332.40,858.50 S336.45,861.86 340.50,857.38" fill="none" stroke="#0a0a0a" stroke-width="1.8"/>
<text transform="translate(342.45,863.00) scale(1.0740,1.0)" font-family="Liberation Serif" font-style="italic" font-weight="normal" font-size="21.00" fill="#0a0a0a" stroke="#0a0a0a" stroke-width="0.18">D</text>
<rect x="372.00" y="816.00" width="1.80" height="68.40" fill="#0a0a0a"/>
<rect x="372.00" y="816.00" width="9.40" height="1.80" fill="#0a0a0a"/>
<rect x="372.00" y="882.60" width="9.40" height="1.80" fill="#0a0a0a"/>
<text transform="translate(381.43,857.50) scale(0.9418,1.0)" font-family="Liberation Serif" font-style="normal" font-weight="normal" font-size="30.00" fill="#0a0a0a" stroke="#0a0a0a" stroke-width="0.2571428571428571">log</text>
<text transform="translate(422.07,857.50) scale(1.0435,1.0)" font-family="Liberation Serif" font-style="italic" font-weight="normal" font-size="30.00" fill="#0a0a0a" stroke="#0a0a0a" stroke-width="0.2571428571428571">σ</text>
<path d="M464.60,816.00 C445.13,833.00 445.13,867.00 464.60,884.00 L464.90,883.40 C449.13,864.96 449.13,835.04 464.90,816.60 Z" fill="#0a0a0a"/>
<text transform="translate(466.52,857.50) scale(1.0858,1.0)" font-family="Liberation Serif" font-style="italic" font-weight="normal" font-size="30.00" fill="#0a0a0a" stroke="#0a0a0a" stroke-width="0.2571428571428571">β</text>
<text transform="translate(487.93,857.50) scale(0.9552,1.0)" font-family="Liberation Serif" font-style="normal" font-weight="normal" font-size="30.00" fill="#0a0a0a" stroke="#0a0a0a" stroke-width="0.2571428571428571">log</text>
<text transform="translate(544.79,838.30) scale(0.6942,1.0)" font-family="Liberation Serif" font-style="italic" font-weight="normal" font-size="30.00" fill="#0a0a0a" stroke="#0a0a0a" stroke-width="0.2571428571428571">π</text>
<text transform="translate(558.90,842.70) scale(1.0684,1.0)" font-family="Liberation Serif" font-style="italic" font-weight="normal" font-size="21.00" fill="#0a0a0a" stroke="#0a0a0a" stroke-width="0.18">θ</text>
<text transform="translate(572.57,839.33) scale(0.2803,0.3275)" font-family="Liberation Serif" font-style="normal" font-weight="normal" font-size="100.0" fill="#0a0a0a">(</text>
<text transform="translate(584.56,838.30) scale(0.8210,1.0)" font-family="Liberation Serif" font-style="italic" font-weight="normal" font-size="30.00" fill="#0a0a0a" stroke="#0a0a0a" stroke-width="0.2571428571428571">y</text>
<text transform="translate(596.17,842.70) scale(1.2782,1.0)" font-family="Liberation Serif" font-style="italic" font-weight="normal" font-size="21.00" fill="#0a0a0a" stroke="#0a0a0a" stroke-width="0.18">c</text>
<rect x="611.50" y="816.60" width="1.40" height="29.70" fill="#0a0a0a"/>
<text transform="translate(617.59,838.30) scale(1.0697,1.0)" font-family="Liberation Serif" font-style="italic" font-weight="normal" font-size="30.00" fill="#0a0a0a" stroke="#0a0a0a" stroke-width="0.2571428571428571">x</text>
<text transform="translate(632.80,839.33) scale(0.3115,0.3275)" font-family="Liberation Serif" font-style="normal" font-weight="normal" font-size="100.0" fill="#0a0a0a">)</text>
<rect x="533.30" y="849.20" width="120.70" height="1.60" fill="#0a0a0a"/>
<text transform="translate(533.88,876.70) scale(0.7457,1.0)" font-family="Liberation Serif" font-style="italic" font-weight="normal" font-size="30.00" fill="#0a0a0a" stroke="#0a0a0a" stroke-width="0.2571428571428571">π</text>
<text transform="translate(548.52,881.00) scale(1.3293,1.0)" font-family="Liberation Serif" font-style="normal" font-weight="bold" font-size="19.00" fill="#0a0a0a" stroke="#0a0a0a" stroke-width="0.16285714285714284">ref</text>
<text transform="translate(582.80,877.36) scale(0.2725,0.3121)" font-family="Liberation Serif" font-style="normal" font-weight="normal" font-size="100.0" fill="#0a0a0a">(</text>
<text transform="translate(595.36,876.70) scale(0.8210,1.0)" font-family="Liberation Serif" font-style="italic" font-weight="normal" font-size="30.00" fill="#0a0a0a" stroke="#0a0a0a" stroke-width="0.2571428571428571">y</text>
<text transform="translate(607.02,881.00) scale(1.2072,1.0)" font-family="Liberation Serif" font-style="italic" font-weight="normal" font-size="21.00" fill="#0a0a0a" stroke="#0a0a0a" stroke-width="0.18">c</text>
<rect x="622.30" y="855.70" width="1.40" height="28.30" fill="#0a0a0a"/>
<text transform="translate(627.69,876.70) scale(1.0771,1.0)" font-family="Liberation Serif" font-style="italic" font-weight="normal" font-size="30.00" fill="#0a0a0a" stroke="#0a0a0a" stroke-width="0.2571428571428571">x</text>
<text transform="translate(642.11,877.36) scale(0.3387,0.3121)" font-family="Liberation Serif" font-style="normal" font-weight="normal" font-size="100.0" fill="#0a0a0a">)</text>
<rect x="666.60" y="849.50" width="17.40" height="1.60" fill="#0a0a0a"/>
<text transform="translate(693.88,857.50) scale(0.9882,1.0)" font-family="Liberation Serif" font-style="italic" font-weight="normal" font-size="30.00" fill="#0a0a0a" stroke="#0a0a0a" stroke-width="0.2571428571428571">β</text>
<text transform="translate(715.24,857.50) scale(0.9337,1.0)" font-family="Liberation Serif" font-style="normal" font-weight="normal" font-size="30.00" fill="#0a0a0a" stroke="#0a0a0a" stroke-width="0.2571428571428571">log</text>
<text transform="translate(772.10,838.30) scale(0.6492,1.0)" font-family="Liberation Serif" font-style="italic" font-weight="normal" font-size="30.00" fill="#0a0a0a" stroke="#0a0a0a" stroke-width="0.2571428571428571">π</text>
<text transform="translate(785.62,842.70) scale(1.0571,1.0)" font-family="Liberation Serif" font-style="italic" font-weight="normal" font-size="21.00" fill="#0a0a0a" stroke="#0a0a0a" stroke-width="0.18">θ</text>
<text transform="translate(799.63,839.33) scale(0.3115,0.3275)" font-family="Liberation Serif" font-style="normal" font-weight="normal" font-size="100.0" fill="#0a0a0a">(</text>
<text transform="translate(812.57,838.30) scale(0.8273,1.0)" font-family="Liberation Serif" font-style="italic" font-weight="normal" font-size="30.00" fill="#0a0a0a" stroke="#0a0a0a" stroke-width="0.2571428571428571">y</text>
<text transform="translate(823.85,842.70) scale(1.3545,1.0)" font-family="Liberation Serif" font-style="italic" font-weight="normal" font-size="21.00" fill="#0a0a0a" stroke="#0a0a0a" stroke-width="0.18">r</text>
<rect x="840.30" y="816.60" width="1.40" height="29.70" fill="#0a0a0a"/>
<text transform="translate(844.91,838.30) scale(1.1291,1.0)" font-family="Liberation Serif" font-style="italic" font-weight="normal" font-size="30.00" fill="#0a0a0a" stroke="#0a0a0a" stroke-width="0.2571428571428571">x</text>
<text transform="translate(860.91,839.33) scale(0.3076,0.3275)" font-family="Liberation Serif" font-style="normal" font-weight="normal" font-size="100.0" fill="#0a0a0a">)</text>
<rect x="760.60" y="849.20" width="121.40" height="1.60" fill="#0a0a0a"/>
<text transform="translate(761.89,876.70) scale(0.7071,1.0)" font-family="Liberation Serif" font-style="italic" font-weight="normal" font-size="30.00" fill="#0a0a0a" stroke="#0a0a0a" stroke-width="0.2571428571428571">π</text>
<text transform="translate(775.12,881.00) scale(1.3293,1.0)" font-family="Liberation Serif" font-style="normal" font-weight="bold" font-size="19.00" fill="#0a0a0a" stroke="#0a0a0a" stroke-width="0.16285714285714284">ref</text>
<text transform="translate(810.77,877.36) scale(0.2803,0.3121)" font-family="Liberation Serif" font-style="normal" font-weight="normal" font-size="100.0" fill="#0a0a0a">(</text>
<text transform="translate(822.87,876.70) scale(0.8652,1.0)" font-family="Liberation Serif" font-style="italic" font-weight="normal" font-size="30.00" fill="#0a0a0a" stroke="#0a0a0a" stroke-width="0.2571428571428571">y</text>
<text transform="translate(834.91,881.00) scale(1.1649,1.0)" font-family="Liberation Serif" font-style="italic" font-weight="normal" font-size="21.00" fill="#0a0a0a" stroke="#0a0a0a" stroke-width="0.18">r</text>
<rect x="850.00" y="855.70" width="1.40" height="28.30" fill="#0a0a0a"/>
<text transform="translate(855.07,876.70) scale(1.0177,1.0)" font-family="Liberation Serif" font-style="italic" font-weight="normal" font-size="30.00" fill="#0a0a0a" stroke="#0a0a0a" stroke-width="0.2571428571428571">x</text>
<text transform="translate(870.21,877.36) scale(0.3387,0.3121)" font-family="Liberation Serif" font-style="normal" font-weight="normal" font-size="100.0" fill="#0a0a0a">)</text>
<path d="M887.00,816.60 C905.67,833.45 905.67,867.15 887.00,884.00 L886.70,883.40 C901.67,865.13 901.67,835.47 886.70,817.20 Z" fill="#0a0a0a"/>
<rect x="913.60" y="816.60" width="1.80" height="67.40" fill="#0a0a0a"/>
<rect x="906.70" y="816.60" width="8.70" height="1.80" fill="#0a0a0a"/>
<rect x="906.70" y="882.20" width="8.70" height="1.80" fill="#0a0a0a"/>
</svg></body></html>
